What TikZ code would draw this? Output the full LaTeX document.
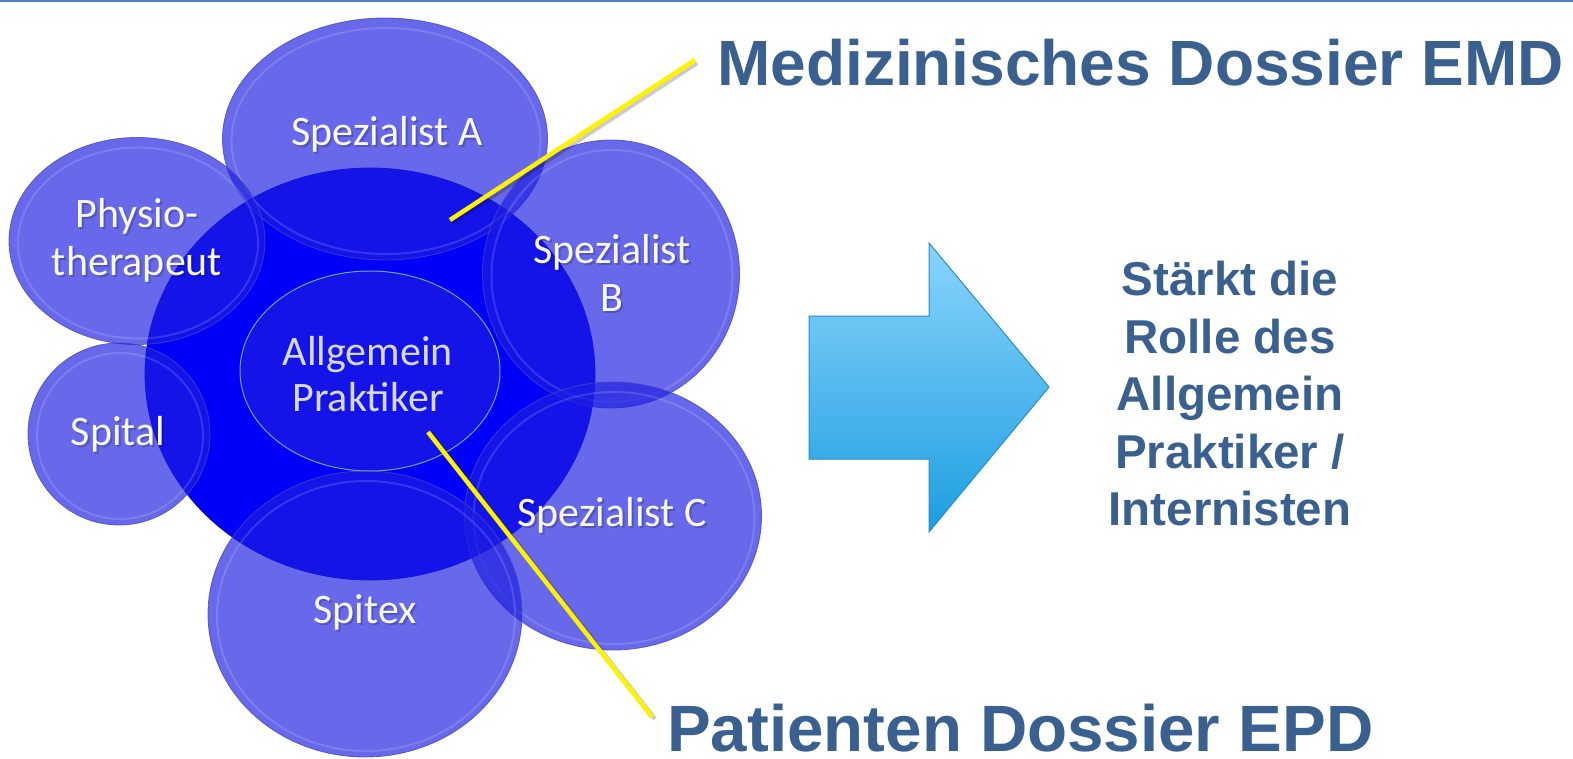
\documentclass[tikz,border=0pt]{standalone}
\usepackage{fontspec}
\setmainfont{Carlito}
\newfontfamily\headfont{Liberation Sans}
\usetikzlibrary{shapes.geometric}
\definecolor{headblue}{RGB}{58,96,144}
\definecolor{petal}{RGB}{30,30,226}
\definecolor{petalrim}{RGB}{70,70,190}
\definecolor{core}{RGB}{0,0,250}
\definecolor{innerfill}{RGB}{20,20,232}
\definecolor{innerrim}{RGB}{110,170,170}
\definecolor{labelwhite}{RGB}{248,248,255}
\definecolor{innertext}{RGB}{215,215,238}
\definecolor{arrowtop}{RGB}{138,212,252}
\definecolor{arrowbot}{RGB}{28,158,224}
\definecolor{arrowrim}{RGB}{40,140,200}
\definecolor{topline}{RGB}{79,129,189}
\tikzset{
  petalnode/.style={ellipse, inner sep=0pt, draw=petalrim, line width=0.8pt,
    fill=petal, fill opacity=0.67, draw opacity=0.8},
  rimline/.style={draw=white, line width=2pt, opacity=0.14},
  lbl/.style={text=labelwhite, font=\fontsize{42}{48}\selectfont, align=center, inner sep=0pt},
  lblshadow/.style={lbl, text=black, text opacity=0.2},
  headtext/.style={font=\headfont\bfseries, text=headblue, inner sep=0pt},
  pointer/.style={draw=yellow, line width=4.5pt},
  pointershadow/.style={draw=black, line width=4.5pt, opacity=0.2},
}
\newcommand\petalshape[5]{%
  \node[petalnode, minimum width=#4pt, minimum height=#5pt] (#1) at (#2,#3) {};
  \draw[rimline] (#2+1,#3+2) ellipse [x radius=#4/2-8, y radius=#5/2-8];
}
\newcommand\petallabel[5][lbl]{%
  \node[lblshadow] at (#3+2,#4+2) {#5};
  \node[#1] (#2) at (#3,#4) {#5};
}
\begin{document}
\begin{tikzpicture}[x=1pt,y=-1pt]
\useasboundingbox (0,0) rectangle (1573,759);
\fill[white] (0,0) rectangle (1573,759);
\draw[topline, line width=2pt] (0,1) -- (1573,1);
% core
\node[ellipse, inner sep=0pt, minimum width=450pt, minimum height=412pt,
  fill=core, draw=core!75!black, line width=0.8pt] (core) at (370,374) {};
% petals
\petalshape{spa}{385}{139}{325}{242}
\petalshape{phy}{137}{241}{256}{207}
\petalshape{spi}{119}{434}{182}{182}
\petalshape{spb}{611}{274}{257}{268}
\petalshape{spc}{613}{516}{297}{268}
\petalshape{stx}{365}{614}{314}{286}
% inner
\node[ellipse, inner sep=0pt, minimum width=260pt, minimum height=200pt,
  fill=innerfill, draw=innerrim, line width=1pt] (gp) at (370,371) {};
% labels
\petallabel{spaT}{387}{134}{Spezialist A}
\petallabel{phyT}{137}{240}{Physio-\\therapeut}
\petallabel{spiT}{118}{434}{Spital}
\petallabel{spbT}{612}{273}{Spezialist\\B}
\petallabel{spcT}{612}{515}{Spezialist C}
\petallabel{stxT}{365}{612}{Spitex}
\node[lbl, text=innertext, font=\fontsize{42}{46}\selectfont] (gpT) at (368,374) {Allgemein\\Praktiker};
% headings
\node[headtext, anchor=base west, font=\headfont\bfseries\fontsize{64}{70}\selectfont] (emd) at (717,86) {Medizinisches Dossier EMD};
\node[headtext, anchor=base west, text depth=0pt, font=\headfont\bfseries\fontsize{65.5}{70}\selectfont] (epd) at (667,751) {Patienten Dossier EPD};
% pointers
\coordinate (p1a) at (450,220);
\coordinate (p1b) at (695,60);
\coordinate (p2a) at (428,432);
\coordinate (p2b) at (652,717);
\draw[pointershadow] (452,223) -- (697,63);
\draw[pointershadow] (431,434) -- (655,719);
\draw[pointer] (p1a) -- (p1b);
\draw[pointer] (p2a) -- (p2b);
% arrow
\path[draw=arrowrim, line width=1pt, top color=arrowtop, bottom color=arrowbot]
  (809,316) -- (929,316) -- (929,243) -- (1049,387) -- (929,532) -- (929,459) -- (809,459) -- cycle;
% result text
\node[headtext, align=center, font=\headfont\bfseries\fontsize{47.5}{57.5}\selectfont] (res) at (1230,394)
  {Stärkt die\\Rolle des\\Allgemein\\Praktiker /\\Internisten};
\end{tikzpicture}
\end{document}
